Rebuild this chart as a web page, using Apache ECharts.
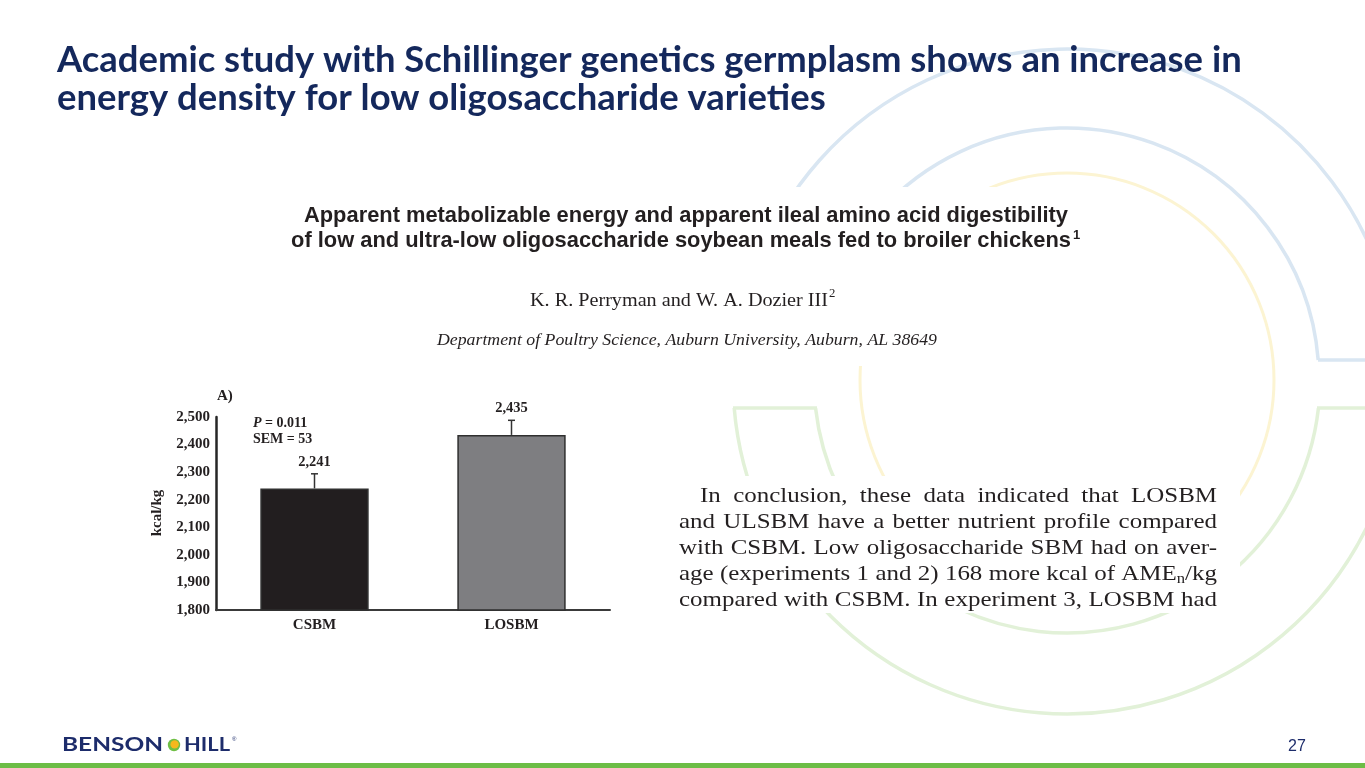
<!DOCTYPE html>
<html><head><meta charset="utf-8">
<script src="https://cdn.jsdelivr.net/npm/echarts@6/dist/echarts.min.js"></script>
<style>html,body{margin:0;padding:0;background:#fff;} #chart{width:1365px;height:768px;}</style>
</head><body><div id="chart"></div>
<script>
// ---------- data ----------
const categories = ['CSBM', 'LOSBM'];
const meanValues = [2241, 2435];
const semValues = [53, 53];
const barColors = ['#221e1f', '#7e7e81'];
const yAxisMin = 1800, yAxisMax = 2500, yAxisStep = 100;
const panelLabel = 'A)';
const statP = '0.011';
const statSEM = 'SEM = 53';
const yAxisTitle = 'kcal/kg';

const titleLines = [
  'Academic study with Schillinger genetics germplasm shows an increase in',
  'energy density for low oligosaccharide varieties'
];
const paperTitle = [
  'Apparent metabolizable energy and apparent ileal amino acid digestibility',
  'of low and ultra-low oligosaccharide soybean meals fed to broiler chickens'
];
const paperAuthors = 'K. R. Perryman and W. A. Dozier III';
const paperDept = 'Department of Poultry Science, Auburn University, Auburn, AL 38649';
const paraLines = [
  'In conclusion, these data indicated that LOSBM',
  'and ULSBM have a better nutrient profile compared',
  'with CSBM. Low oligosaccharide SBM had on aver-',
  'age (experiments 1 and 2) 168 more kcal of AME_n/kg',
  'compared with CSBM. In experiment 3, LOSBM had'
];
const pageNumber = '27';

// ---------- helpers ----------
const mctx = document.createElement('canvas').getContext('2d');
function tw(text, font) { mctx.font = font; return mctx.measureText(text).width; }
function txt(text, x, y, font, fill, align, sx, extra) {
  return Object.assign({
    type: 'text', x: x, y: y, scaleX: sx || 1, z: 10, silent: true,
    style: { text: text, font: font, fill: fill, textAlign: align || 'left', textVerticalAlign: 'middle' }
  }, extra || {});
}
const fmt = v => Number(v).toLocaleString('en-US');
const NAVY = '#14285c';
const INK = '#231f20';
const SERIF = "'Liberation Serif'";
const els = [];

// ---------- decorative rings ----------
const C = [1067, 380];
function arc(r, a0, a1, color, lw) {
  return { type: 'arc', z: 1, silent: true,
    shape: { cx: C[0], cy: C[1], r: r, startAngle: a0 * Math.PI / 180, endAngle: a1 * Math.PI / 180, clockwise: true },
    style: { stroke: color, fill: 'none', lineWidth: lw || 3.5 } };
}
function seg(x1, y1, x2, y2, color) {
  return { type: 'line', z: 1, silent: true, shape: { x1, y1, x2, y2 }, style: { stroke: color, lineWidth: 3.5 } };
}
const BLUE = '#d9e6f2', YEL = '#fcf4d2', GRN = '#e2f1d8';
els.push(arc(331, 200, 356.5, BLUE));
els.push(arc(252, 200, 355.45, BLUE));
els.push(seg(1318, 360, 1400, 360, BLUE));
els.push(arc(207, 0, 360, YEL, 3));
els.push(arc(334, 4.8, 175.2, GRN));
els.push(arc(253, 6.4, 173.6, GRN));
els.push(seg(733, 408, 817, 408, GRN));
els.push(seg(1317, 408, 1400, 408, GRN));
// white panels of the pasted paper excerpts
els.push({ type: 'rect', z: 2, silent: true, shape: { x: 140, y: 187, width: 960, height: 179 }, style: { fill: '#fff' } });
els.push({ type: 'rect', z: 2, silent: true, shape: { x: 672, y: 476, width: 568, height: 137 }, style: { fill: '#fff' } });

// ---------- slide title ----------
const tBase = "bold 30px Lato";
const tSize = Math.max(24, Math.min(40, 30 * 1185 / tw(titleLines[0], tBase)));
const TF = "bold " + tSize.toFixed(2) + "px Lato";
els.push(txt(titleLines[0], 57, 60, TF, NAVY, 'left'));
els.push(txt(titleLines[1], 57, 98, TF, NAVY, 'left'));

// ---------- paper header ----------
const hBase = "bold 19px 'Liberation Sans'";
const hSize = Math.max(15, Math.min(24, 19 * 764 / tw(paperTitle[0], hBase)));
const HF = "bold " + hSize.toFixed(2) + "px 'Liberation Sans'";
els.push(txt(paperTitle[0], 686, 216, HF, INK, 'center'));
const w2 = tw(paperTitle[1], HF);
els.push(txt(paperTitle[1], 681, 241, HF, INK, 'center'));
els.push(txt('1', 681 + w2 / 2 + 2, 235, "bold 13px 'Liberation Sans'", INK, 'left'));

const AF = "19px " + SERIF;
const aS = 298 / tw(paperAuthors, AF);
els.push(txt(paperAuthors, 530, 301, AF, INK, 'left', aS));
els.push(txt('2', 530 + tw(paperAuthors, AF) * aS + 1, 294, "12px " + SERIF, INK, 'left', aS));
const DF = "italic 17.5px " + SERIF;
const dS = 500 / tw(paperDept, DF);
els.push(txt(paperDept, 437, 340, DF, INK, 'left', dS));

// ---------- justified paragraph ----------
const PF = "21px " + SERIF;
const PFsub = "14px " + SERIF;
function wordParts(w) {
  const m = w.match(/^(.*)_(\w)(.*)$/);
  if (!m) return [{ t: w }];
  return [{ t: m[1] }, { t: m[2], sub: true }, { t: m[3] }].filter(p => p.t);
}
const pS = 536 / tw(paraLines[4], PF);
paraLines.forEach((line, li) => {
  const x0 = li === 0 ? 700 : 679, x1 = 1217;
  const y = 496 + li * 26;
  const words = line.split(' ');
  const wws = words.map(w => wordParts(w).reduce((a, p) => a + tw(p.t, p.sub ? PFsub : PF), 0) * pS);
  const total = wws.reduce((a, b) => a + b, 0);
  const gap = (x1 - x0 - total) / (words.length - 1);
  let x = x0;
  words.forEach((w, wi) => {
    let px = x;
    wordParts(w).forEach(p => {
      const f = p.sub ? PFsub : PF;
      els.push(txt(p.t, px, y + (p.sub ? 5 : 0), f, INK, 'left', pS));
      px += tw(p.t, f) * pS;
    });
    x += wws[wi] + gap;
  });
});

// ---------- chart annotations ----------
const CF = "bold 15px " + SERIF;
els.push(txt(panelLabel, 217, 396, CF, INK, 'left'));
const PI_F = "italic bold 14px " + SERIF, PB_F = "bold 14px " + SERIF;
els.push(txt('P', 253, 423, PI_F, INK, 'left'));
els.push(txt(' = ' + statP, 253 + tw('P', PI_F), 423, PB_F, INK, 'left'));
els.push(txt(statSEM, 253, 439, PB_F, INK, 'left'));
els.push(txt(yAxisTitle, 157, 513, CF, INK, 'center', 1, { rotation: Math.PI / 2 }));

// ---------- footer ----------
const LF = "bold 19px Lato";
const bS = 101 / tw('BENSON', LF);
els.push(txt('BENSON', 62, 745, LF, '#1d2c6b', 'left', bS));
els.push({ type: 'circle', z: 10, silent: true, shape: { cx: 174, cy: 745, r: 6.2 }, style: { fill: '#6fbf45' } });
els.push({ type: 'circle', z: 11, silent: true, shape: { cx: 174.6, cy: 744.4, r: 4.2 }, style: { fill: '#f6b81c' } });
const hS = 46 / tw('HILL', LF);
els.push(txt('HILL', 184, 745, LF, '#1d2c6b', 'left', hS));
els.push(txt('®', 232, 739, "6px 'Liberation Sans'", '#1d2c6b', 'left'));
els.push(txt(pageNumber, 1297, 747, "16px 'Liberation Sans'", '#1d2c6b', 'center'));
els.push({ type: 'rect', z: 10, silent: true, shape: { x: 0, y: 763, width: 1365, height: 5 }, style: { fill: '#6cbd46' } });

// ---------- chart ----------
const axisFont = { fontFamily: 'Liberation Serif', fontWeight: 'bold', fontSize: 15, color: INK };
const chart = echarts.init(document.getElementById('chart'), null, { renderer: 'canvas' });
chart.setOption({
  animation: false,
  backgroundColor: '#ffffff',
  grid: { left: 216, right: 755, top: 417, bottom: 158, containLabel: false, outerBoundsMode: 'none' },
  xAxis: {
    type: 'category', data: categories,
    axisLine: { show: true, lineStyle: { color: '#3a3a3a', width: 2 } },
    axisTick: { show: false },
    axisLabel: Object.assign({ margin: 8 }, axisFont),
    splitLine: { show: false }
  },
  yAxis: {
    type: 'value', min: yAxisMin, max: yAxisMax, interval: yAxisStep,
    axisLine: { show: true, lineStyle: { color: '#262626', width: 2.5 } },
    axisTick: { show: false },
    splitLine: { show: false },
    axisLabel: Object.assign({ margin: 6, formatter: v => fmt(v) }, axisFont)
  },
  series: [
    {
      type: 'bar', barWidth: '55%',
      data: meanValues.map((v, i) => ({ value: v, itemStyle: { color: barColors[i], borderColor: '#2f2f2f', borderWidth: 1.5 } })),
      z: 3
    },
    {
      type: 'custom', z: 4,
      encode: { x: 0, y: 1 },
      data: categories.map((c, i) => [i, meanValues[i], semValues[i]]),
      renderItem: function (params, api) {
        const x = api.value(0), m = api.value(1), e = api.value(2);
        const b = api.coord([x, m]);
        const t = api.coord([x, m + e]);
        return {
          type: 'group', children: [
            { type: 'line', shape: { x1: b[0], y1: b[1], x2: t[0], y2: t[1] }, style: { stroke: '#333', lineWidth: 1.5 } },
            { type: 'line', shape: { x1: t[0] - 3.5, y1: t[1], x2: t[0] + 3.5, y2: t[1] }, style: { stroke: '#333', lineWidth: 1.5 } },
            { type: 'text', x: t[0], y: t[1] - 12, style: { text: fmt(m), font: "bold 14.5px 'Liberation Serif'", fill: INK, textAlign: 'center', textVerticalAlign: 'middle' } }
          ]
        };
      }
    }
  ],
  graphic: { elements: els }
});
</script>
</body></html>
